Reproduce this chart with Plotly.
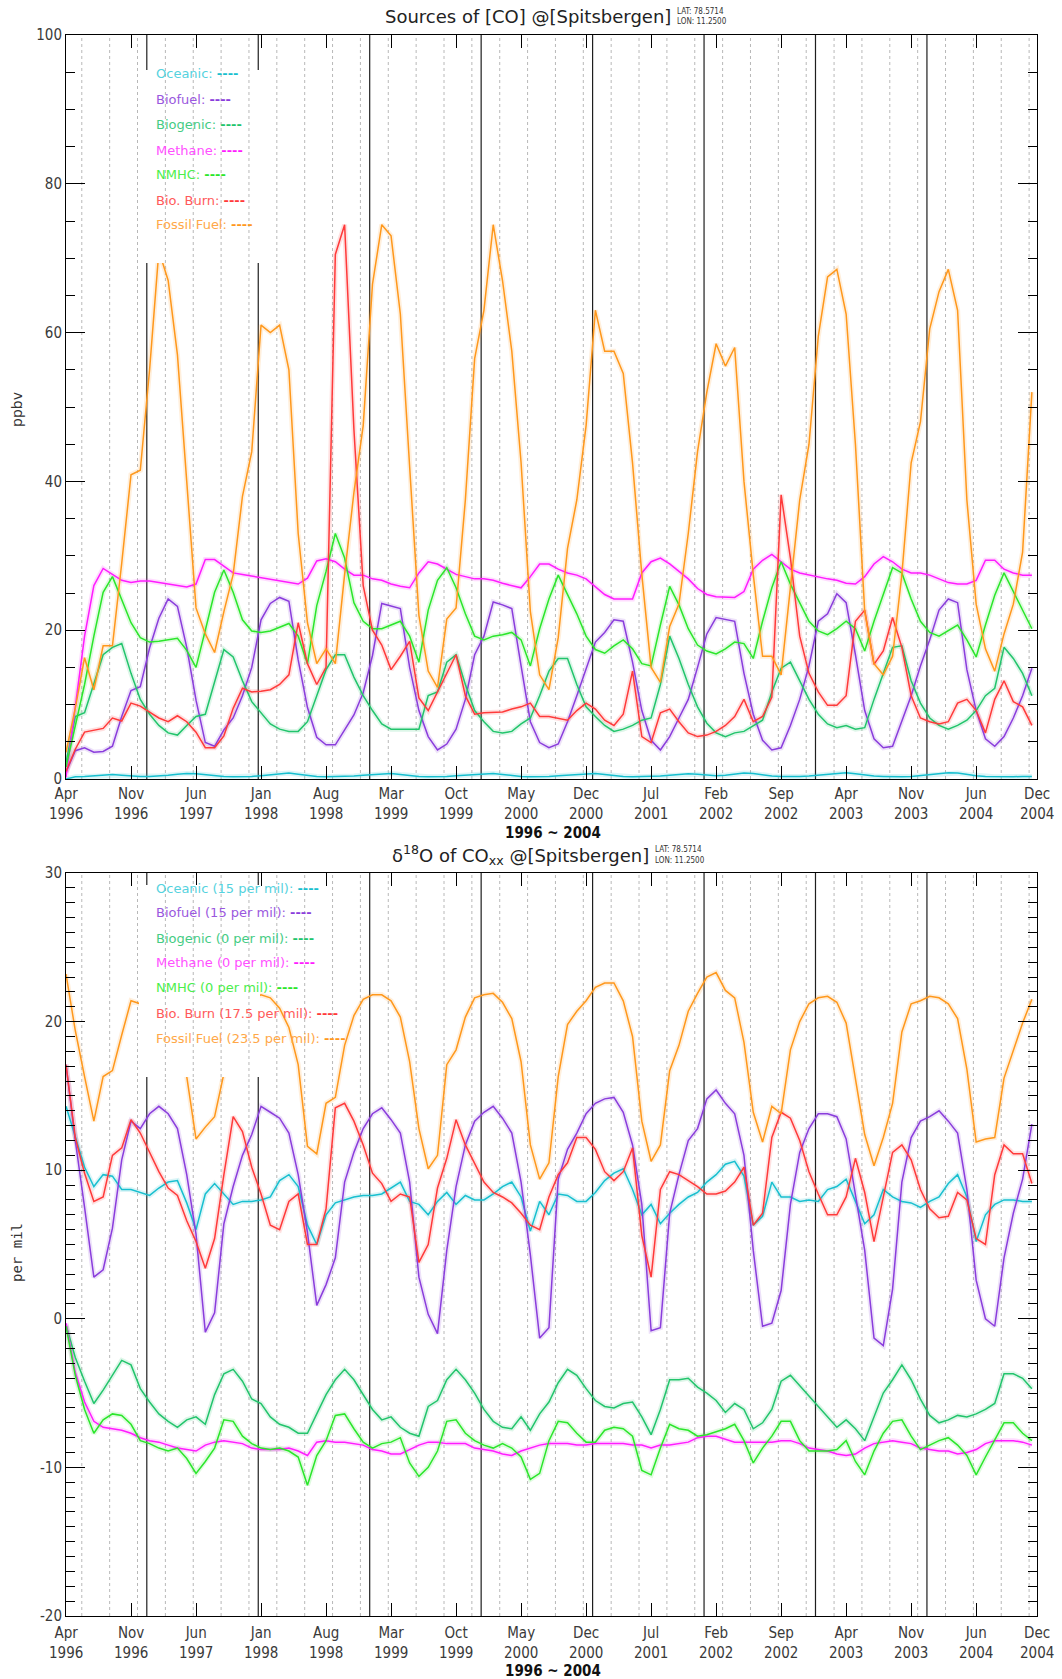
import plotly.graph_objects as go

# ---------------------------------------------------------------------------
# Monthly means, Apr 1996 .. Dec 2004 (105 months)
# ---------------------------------------------------------------------------
tick_months = [0, 7, 14, 21, 28, 35, 42, 49, 56, 63, 70, 77, 84, 91, 98, 104.55]
tick_mon = ["Apr", "Nov", "Jun", "Jan", "Aug", "Mar", "Oct", "May", "Dec",
            "Jul", "Feb", "Sep", "Apr", "Nov", "Jun", "Dec"]
tick_year = ["1996", "1996", "1997", "1998", "1998", "1999", "1999", "2000", "2000",
             "2001", "2002", "2002", "2003", "2003", "2004", "2004"]

series_names = ["Oceanic", "Biofuel", "Biogenic", "Methane", "NMHC", "Bio. Burn", "Fossil Fuel"]
d18o_signatures = ["15", "15", "0", "0", "0", "17.5", "23.5"]

# --- [CO] by source, ppbv ---
co_oceanic = [
    0.0, 0.3, 0.35, 0.4, 0.55, 0.6, 0.5, 0.4, 0.35, 0.35,
    0.4, 0.5, 0.65, 0.75, 0.7, 0.55, 0.4, 0.35, 0.3, 0.3,
    0.35, 0.45, 0.6, 0.75, 0.8, 0.65, 0.45, 0.35, 0.3, 0.3,
    0.35, 0.4, 0.5, 0.6, 0.7, 0.75, 0.6, 0.45, 0.35, 0.3,
    0.3, 0.35, 0.45, 0.55, 0.65, 0.7, 0.75, 0.6, 0.45, 0.35,
    0.3, 0.3, 0.35, 0.45, 0.55, 0.65, 0.7, 0.75, 0.6, 0.45,
    0.35, 0.3, 0.3, 0.35, 0.4, 0.5, 0.6, 0.7, 0.65, 0.5,
    0.45, 0.5, 0.65, 0.8, 0.75, 0.55, 0.4, 0.35, 0.3, 0.35,
    0.4, 0.5, 0.6, 0.75, 0.85, 0.7, 0.5, 0.4, 0.35, 0.3,
    0.3, 0.35, 0.45, 0.55, 0.7, 0.85, 0.8, 0.6, 0.45, 0.35,
    0.3, 0.3, 0.3, 0.35, 0.35]
co_biofuel = [
    0.9, 3.8, 4.2, 3.6, 3.7, 4.4, 8.4, 11.9, 12.4, 17.6,
    21.6, 24.2, 23.2, 17.7, 10.6, 4.9, 4.4, 6.6, 8.2, 11.2,
    15.0, 21.4, 23.6, 24.4, 23.9, 16.0, 9.6, 5.6, 4.6, 4.6,
    6.6, 8.6, 11.6, 16.6, 23.6, 23.2, 22.9, 15.0, 9.2, 5.7,
    3.9, 4.7, 6.7, 10.7, 16.7, 19.2, 23.8, 23.4, 22.9, 15.2,
    7.7, 4.9, 4.2, 4.7, 7.7, 11.2, 14.7, 18.4, 19.7, 21.4,
    21.2, 15.7, 9.2, 5.2, 3.9, 5.7, 8.2, 10.7, 15.0, 19.5,
    21.7, 21.4, 21.2, 14.2, 8.7, 5.2, 3.9, 4.2, 7.2, 10.7,
    15.2, 21.2, 22.2, 24.9, 23.7, 16.7, 9.2, 5.4, 4.2, 4.4,
    7.7, 11.2, 15.2, 18.7, 22.7, 24.2, 23.7, 14.7, 9.2, 5.4,
    4.4, 5.7, 8.2, 11.2, 14.9]
co_biogenic = [
    2.2, 8.4, 8.9, 12.7, 16.7, 17.7, 18.2, 14.2, 10.7, 8.7,
    7.2, 6.2, 5.9, 7.2, 8.4, 8.7, 13.2, 17.4, 16.4, 13.2,
    10.4, 8.9, 7.4, 6.7, 6.4, 6.4, 7.7, 11.2, 14.7, 16.7,
    16.7, 13.7, 11.2, 9.2, 7.4, 6.7, 6.7, 6.7, 6.7, 11.2,
    11.7, 15.7, 16.7, 12.7, 9.2, 7.7, 6.4, 6.2, 6.4, 7.4,
    8.2, 11.2, 14.5, 16.2, 16.2, 12.7, 9.7, 8.4, 7.2, 6.4,
    6.7, 7.2, 7.9, 8.2, 12.7, 19.2, 16.2, 12.7, 9.7, 7.5,
    6.2, 5.7, 6.2, 6.4, 7.2, 7.9, 11.7, 14.9, 15.7, 13.2,
    10.7, 8.7, 7.4, 6.9, 7.2, 6.7, 6.9, 10.7, 14.2, 17.7,
    17.9, 13.2, 10.2, 8.2, 7.2, 6.7, 7.2, 7.9, 9.2, 11.2,
    12.2, 17.7, 16.2, 14.2, 11.2]
co_methane = [
    0.2, 9.9, 19.2, 26.0, 28.3, 27.5, 26.7, 26.4, 26.6, 26.6,
    26.4, 26.2, 25.9, 25.8, 26.2, 29.5, 29.5, 28.6, 27.7, 27.5,
    27.3, 27.1, 26.9, 26.7, 26.4, 26.2, 27.0, 29.3, 29.6, 29.2,
    28.2, 27.4, 27.4, 26.9, 26.7, 26.2, 25.9, 25.7, 27.7, 29.2,
    28.9, 28.2, 27.5, 27.2, 26.9, 26.9, 26.7, 26.3, 26.0, 25.7,
    27.2, 28.9, 28.9, 28.2, 27.7, 27.4, 26.9, 25.9, 24.8, 24.2,
    24.2, 24.2, 27.7, 29.2, 29.7, 28.9, 27.9, 26.9, 25.6, 24.8,
    24.5, 24.4, 24.4, 25.2, 28.2, 29.4, 30.2, 29.2, 28.2, 27.7,
    27.4, 27.2, 26.9, 26.7, 26.3, 26.2, 27.2, 28.9, 29.9, 29.2,
    28.2, 27.7, 27.7, 27.4, 26.9, 26.4, 26.2, 26.2, 26.7, 29.4,
    29.4, 28.2, 27.7, 27.4, 27.4]
co_nmhc = [
    1.6, 7.2, 12.7, 19.2, 25.1, 27.2, 24.2, 21.0, 19.0, 18.4,
    18.5, 18.7, 18.9, 17.3, 15.0, 20.0, 25.1, 28.1, 25.1, 21.4,
    19.9, 19.7, 19.9, 20.4, 20.9, 19.2, 15.5, 23.3, 27.9, 33.0,
    29.7, 23.7, 21.2, 20.2, 20.2, 20.7, 21.2, 19.2, 15.7, 22.7,
    26.7, 28.4, 25.7, 22.2, 19.2, 18.7, 19.2, 19.4, 19.7, 18.7,
    15.2, 20.2, 24.2, 27.4, 24.9, 22.2, 19.2, 17.4, 16.9, 17.9,
    18.7, 17.5, 15.5, 15.2, 20.7, 25.9, 23.4, 20.2, 18.0, 17.2,
    16.8, 17.5, 18.4, 18.2, 16.2, 21.2, 25.7, 29.2, 26.2, 23.7,
    21.2, 19.9, 19.4, 20.2, 21.2, 20.2, 17.2, 21.2, 24.7, 28.4,
    27.7, 24.2, 21.2, 19.7, 19.2, 19.9, 20.7, 18.7, 16.4, 20.7,
    24.7, 27.7, 25.2, 22.7, 20.2]
co_bioburn = [
    1.0, 4.0, 6.3, 6.5, 6.8, 8.2, 7.8, 10.2, 9.8, 9.0,
    8.2, 7.7, 8.5, 7.7, 6.3, 4.2, 4.2, 5.8, 9.5, 12.2,
    11.7, 11.8, 12.0, 12.7, 14.0, 21.0, 15.5, 12.7, 15.0, 70.5,
    74.5, 47.0, 26.0, 20.0, 18.0, 14.7, 16.5, 18.5, 10.9, 9.2,
    11.7, 14.2, 16.7, 11.2, 8.7, 8.9, 8.9, 9.0, 9.4, 9.7,
    10.2, 8.4, 8.4, 8.2, 7.9, 9.2, 10.2, 9.4, 7.9, 7.2,
    8.7, 14.5, 5.7, 4.9, 8.9, 9.4, 7.7, 6.2, 5.7, 5.9,
    6.4, 7.2, 8.4, 10.7, 7.7, 8.4, 11.0, 38.2, 29.7, 19.2,
    14.2, 11.7, 9.9, 9.9, 11.2, 21.2, 22.7, 15.4, 17.2, 21.7,
    17.7, 11.2, 8.2, 7.7, 7.4, 7.7, 10.2, 10.7, 9.2, 6.2,
    10.7, 13.2, 10.4, 9.7, 7.2]
co_fossil = [
    3.6, 9.5, 16.3, 12.0, 17.9, 17.9, 29.0, 40.9, 41.5, 55.0,
    71.0, 67.0, 57.0, 40.5, 23.0, 19.5, 17.0, 22.5, 27.5, 38.0,
    44.0, 61.0, 60.0, 61.0, 55.0, 33.0, 21.0, 15.5, 17.5, 15.5,
    27.5, 38.5, 47.5, 66.5, 74.5, 73.0, 62.5, 42.0, 22.0, 14.5,
    12.3, 21.5, 23.0, 37.5, 56.5, 63.0, 74.5, 67.0, 57.5, 42.5,
    22.5, 14.0, 12.0, 19.0, 31.0, 37.5, 47.5, 63.0, 57.5, 57.5,
    54.5, 42.5, 27.5, 15.0, 13.0, 20.5, 23.5, 33.0, 44.0, 52.0,
    58.5, 55.5, 58.0, 40.0, 27.5, 16.5, 16.5, 14.0, 26.0, 37.5,
    45.0, 59.5, 67.5, 68.5, 62.5, 45.0, 22.5, 15.5, 14.0, 16.5,
    27.5, 42.5, 48.0, 60.5, 65.5, 68.5, 63.0, 37.5, 23.5, 17.5,
    14.5, 19.5, 23.5, 30.5, 52.0]

# --- d18O of CO by source, per mil ---
d18o_oceanic = [
    14.3, 12.2, 10.2, 8.9, 9.7, 9.6, 8.7, 8.7, 8.5, 8.3,
    8.8, 9.2, 9.3, 7.8, 6.0, 8.4, 9.1, 8.4, 7.7, 7.9,
    7.9, 8.0, 8.2, 9.3, 9.7, 8.9, 6.3, 5.0, 7.0, 7.8,
    8.0, 8.2, 8.3, 8.3, 8.4, 8.8, 9.2, 7.9, 7.7, 7.0,
    7.9, 8.5, 7.7, 8.3, 8.0, 8.0, 8.4, 8.9, 9.2, 8.2,
    5.9, 7.9, 7.0, 8.4, 8.3, 7.9, 7.9, 8.5, 9.3, 9.8,
    10.1, 8.7, 7.0, 7.7, 6.4, 7.1, 7.7, 8.2, 8.5, 9.2,
    9.7, 10.4, 10.6, 9.6, 6.3, 6.9, 9.2, 8.2, 8.2, 7.9,
    8.0, 7.9, 8.7, 8.9, 9.4, 7.9, 6.4, 7.0, 8.7, 8.2,
    7.9, 7.8, 7.5, 7.9, 8.2, 9.1, 9.7, 8.2, 5.2, 7.0,
    7.7, 8.0, 8.0, 7.9, 7.9]
d18o_biofuel = [
    17.1, 12.0, 7.5, 2.8, 3.3, 6.1, 10.7, 13.3, 12.8, 13.8,
    14.3, 13.8, 12.8, 9.7, 5.7, -0.9, 0.4, 6.4, 8.9, 11.0,
    12.4, 14.3, 13.9, 13.5, 12.5, 9.7, 5.8, 0.9, 2.3, 4.1,
    9.2, 11.2, 12.8, 13.8, 14.2, 13.4, 12.5, 9.2, 2.8, 0.3,
    -1.0, 4.6, 8.9, 11.7, 13.3, 13.9, 14.3, 13.5, 12.5, 9.2,
    4.3, -1.3, -0.6, 9.4, 11.4, 12.5, 13.8, 14.5, 14.8, 14.9,
    13.9, 11.7, 7.7, -0.8, -0.6, 7.1, 9.7, 12.0, 12.8, 14.8,
    15.4, 14.5, 13.8, 11.0, 4.6, -0.5, -0.3, 1.9, 7.7, 11.2,
    12.8, 13.8, 13.8, 13.6, 12.1, 8.4, 4.6, -1.3, -1.8, 2.0,
    9.2, 12.2, 13.3, 13.6, 14.0, 13.3, 12.5, 8.7, 2.6, 0.0,
    -0.5, 4.1, 7.1, 9.4, 13.1]
d18o_biogenic = [
    -0.4, -2.6, -4.2, -5.7, -4.8, -3.8, -2.8, -3.1, -4.7, -5.6,
    -6.4, -6.9, -7.3, -6.8, -6.6, -7.1, -5.1, -3.7, -3.4, -4.2,
    -5.4, -5.7, -6.6, -7.1, -7.3, -7.7, -7.7, -6.4, -5.1, -4.1,
    -3.4, -4.1, -5.1, -6.1, -6.8, -6.6, -7.3, -7.7, -7.9, -5.9,
    -5.5, -4.1, -3.4, -4.1, -5.0, -6.1, -6.9, -7.3, -7.4, -6.6,
    -7.5, -6.4, -5.6, -4.3, -3.4, -3.8, -4.7, -5.5, -5.9, -6.0,
    -5.7, -5.6, -6.6, -7.8, -6.1, -4.1, -4.1, -4.0, -4.6, -5.0,
    -5.5, -6.3, -5.7, -6.1, -7.4, -7.0, -6.1, -4.2, -3.8, -4.5,
    -5.2, -5.9, -6.6, -7.3, -6.8, -7.4, -8.2, -6.6, -5.0, -4.1,
    -3.1, -4.1, -5.4, -6.5, -7.0, -6.8, -6.5, -6.6, -6.4, -6.1,
    -5.7, -3.7, -3.7, -4.0, -4.7]
d18o_methane = [
    -0.3, -3.6, -5.6, -6.9, -7.3, -7.4, -7.5, -7.7, -8.0, -8.2,
    -8.3, -8.5, -8.7, -8.8, -8.9, -8.5, -8.3, -8.2, -8.3, -8.4,
    -8.7, -8.8, -8.8, -8.8, -8.7, -8.9, -9.2, -8.3, -8.2, -8.3,
    -8.3, -8.4, -8.5, -8.8, -8.9, -9.1, -9.1, -8.8, -8.5, -8.3,
    -8.3, -8.4, -8.4, -8.4, -8.7, -8.8, -8.9, -9.1, -9.2, -8.9,
    -8.7, -8.5, -8.4, -8.4, -8.4, -8.5, -8.5, -8.4, -8.4, -8.4,
    -8.4, -8.5, -8.5, -8.7, -8.5, -8.5, -8.4, -8.3, -8.0, -7.9,
    -7.9, -8.1, -8.3, -8.3, -8.3, -8.3, -8.3, -8.2, -8.2, -8.4,
    -8.7, -8.8, -8.9, -9.1, -9.2, -9.1, -8.7, -8.4, -8.3, -8.2,
    -8.3, -8.4, -8.7, -8.8, -8.9, -8.9, -9.1, -9.0, -8.8, -8.4,
    -8.2, -8.2, -8.2, -8.3, -8.5]
d18o_nmhc = [
    -0.5, -3.8, -6.1, -7.7, -6.8, -6.4, -6.5, -7.1, -8.2, -8.4,
    -8.7, -8.9, -8.7, -9.4, -10.4, -9.6, -8.7, -6.8, -6.9, -7.9,
    -8.4, -8.7, -8.8, -8.7, -8.9, -9.3, -11.2, -9.2, -8.2, -6.5,
    -6.4, -7.4, -8.3, -8.7, -8.4, -8.3, -8.0, -9.7, -10.6, -10.0,
    -8.9, -6.9, -6.8, -7.7, -8.2, -8.5, -8.7, -8.4, -8.7, -9.3,
    -10.8, -10.4, -8.2, -6.9, -7.0, -7.7, -8.3, -8.3, -7.5, -7.3,
    -7.4, -7.9, -10.2, -10.5, -8.7, -7.1, -7.4, -7.5, -7.9, -7.8,
    -7.6, -7.4, -7.1, -8.2, -9.7, -8.7, -7.9, -6.9, -6.9, -8.2,
    -8.9, -8.9, -8.9, -8.8, -8.2, -9.6, -10.5, -8.9, -7.7, -6.9,
    -6.8, -7.9, -8.8, -8.5, -8.2, -8.0, -8.5, -9.2, -10.5, -9.3,
    -8.2, -7.0, -7.0, -7.7, -8.2]
d18o_bioburn = [
    17.1, 12.2, 9.8, 7.9, 8.2, 11.0, 11.5, 13.4, 12.5, 11.2,
    9.9, 8.8, 8.3, 6.6, 5.2, 3.4, 5.4, 9.7, 13.6, 12.6,
    10.2, 8.4, 6.3, 6.0, 7.9, 8.4, 5.0, 5.0, 7.4, 14.2,
    14.5, 13.3, 11.7, 9.8, 9.1, 7.9, 8.4, 8.2, 3.8, 5.0,
    8.8, 10.8, 13.4, 11.7, 10.5, 9.2, 8.5, 8.2, 7.8, 7.1,
    6.3, 6.0, 8.2, 9.7, 10.5, 12.2, 12.2, 11.4, 9.9, 9.3,
    9.9, 11.5, 5.6, 2.8, 8.7, 9.9, 9.7, 9.3, 8.9, 8.4,
    8.4, 8.6, 9.2, 10.2, 6.3, 7.1, 12.2, 13.9, 13.5, 12.0,
    9.9, 8.4, 7.0, 7.0, 8.2, 10.8, 8.5, 5.2, 8.2, 11.2,
    11.7, 10.7, 8.7, 7.4, 6.8, 6.9, 8.5, 8.0, 5.4, 5.0,
    9.7, 11.7, 11.1, 11.1, 9.1]
d18o_fossil = [
    23.2, 19.4, 16.3, 13.3, 16.3, 16.7, 19.1, 21.4, 21.2, 22.0,
    21.5, 20.0, 17.5, 16.3, 12.1, 12.9, 13.6, 16.5, 19.0, 20.5,
    21.5, 21.8, 21.6, 20.9, 19.6, 17.1, 11.6, 11.1, 14.5, 14.9,
    18.4, 20.4, 21.5, 21.8, 21.8, 21.4, 20.3, 17.3, 12.8, 10.1,
    11.0, 17.1, 18.1, 20.3, 21.6, 21.8, 21.9, 21.3, 20.2, 17.3,
    11.7, 9.4, 10.5, 16.3, 19.8, 20.7, 21.4, 22.3, 22.6, 22.6,
    21.4, 19.0, 13.3, 10.6, 11.7, 16.7, 18.4, 20.7, 21.9, 23.0,
    23.3, 22.1, 21.6, 18.6, 13.9, 11.9, 14.3, 13.8, 18.1, 20.0,
    21.2, 21.6, 21.7, 21.3, 19.9, 16.2, 12.4, 10.3, 12.2, 14.5,
    19.3, 21.2, 21.4, 21.7, 21.6, 21.2, 20.2, 16.8, 11.9, 12.1,
    12.2, 16.2, 18.1, 19.9, 21.5]

co_series = [co_oceanic, co_biofuel, co_biogenic, co_methane, co_nmhc, co_bioburn, co_fossil]
d18o_series = [d18o_oceanic, d18o_biofuel, d18o_biogenic, d18o_methane, d18o_nmhc,
               d18o_bioburn, d18o_fossil]

line_colors = ["#18bfcf", "#8a3ddc", "#22c46c", "#ff1cff", "#2be62b", "#ff3a3a", "#ff981c"]
text_colors = ["#55d2de", "#9a58de", "#45cc84", "#ff50ff", "#4cee4c", "#ff5a5a", "#ffa848"]

months = list(range(len(co_oceanic)))

# ---------------------------------------------------------------------------
# Page geometry (pixels) and helpers
# ---------------------------------------------------------------------------
W, H = 1062, 1679
PL, PR, PT, PB = 66, 1037, 35, 1616
TOP_Y0, TOP_Y1 = 35, 779        # top panel, pixel rows
BOT_Y0, BOT_Y1 = 873, 1616      # bottom panel, pixel rows
X_END = 104.55


def fx(p):
    return (p - PL) / (PR - PL)


def fy(p):
    return (PB - p) / (PB - PT)


def mx(p):
    return (p - PL) / (PR - PL) * X_END


def v_top(p):
    return (TOP_Y1 - p) / (TOP_Y1 - TOP_Y0) * 100.0


def v_bot(p):
    return 30.0 - (p - BOT_Y0) / (BOT_Y1 - BOT_Y0) * 50.0


SANS = "DejaVu Sans"
COND = "DejaVu Sans Condensed, Liberation Sans Narrow, DejaVu Sans"

fig = go.Figure()

for xa, ya, data in (("x", "y", co_series), ("x2", "y2", d18o_series)):
    # soft halo standing in for the scattered sub-monthly samples
    for vals, col in zip(data, line_colors):
        fig.add_trace(go.Scatter(x=months, y=vals, mode="lines", xaxis=xa, yaxis=ya,
                                 line=dict(color=col, width=5), opacity=0.15,
                                 hoverinfo="skip", showlegend=False))
    for name, vals, col in zip(series_names, data, line_colors):
        fig.add_trace(go.Scatter(x=months, y=vals, mode="lines", xaxis=xa, yaxis=ya,
                                 name=name, line=dict(color=col, width=1.5),
                                 showlegend=False))

# ---------------------------------------------------------------------------
# Shapes: year markers, seasonal dotted grid, legend backing
# ---------------------------------------------------------------------------
shapes = []
year_marks = [8.7 + 12 * k for k in range(8)]
season_marks = [1.7 + 3 * k for k in range(35)]
box_x0, box_x1 = mx(139), mx(260)

panels = [
    ("x", "y", (v_top(263), v_top(70))),
    ("x2", "y2", (v_bot(1077), v_bot(885))),
]
for xa, ya, (b0, b1) in panels:
    for xm in season_marks:
        shapes.append(dict(type="line", xref=xa, yref=ya + " domain", x0=xm, x1=xm,
                           y0=0, y1=1, layer="below",
                           line=dict(color="#b8b8b8", width=1, dash="dot")))
    for xm in year_marks:
        shapes.append(dict(type="line", xref=xa, yref=ya + " domain", x0=xm, x1=xm,
                           y0=0, y1=1, layer="below",
                           line=dict(color="#1e1e1e", width=1.2)))
    shapes.append(dict(type="rect", xref=xa, yref=ya, x0=box_x0, x1=box_x1,
                       y0=b0, y1=b1, layer="above", fillcolor="white",
                       line=dict(width=0)))
    for xm in season_marks:
        if box_x0 < xm < box_x1:
            shapes.append(dict(type="line", xref=xa, yref=ya, x0=xm, x1=xm,
                               y0=b0, y1=b1, layer="above",
                               line=dict(color="#b8b8b8", width=1, dash="dot")))

# ---------------------------------------------------------------------------
# Annotations: titles, axis labels, tick labels, legends
# ---------------------------------------------------------------------------
ann = []


def add_text(text, px_x, px_y, size, color="#222", family=SANS, xanchor="center",
             angle=0):
    ann.append(dict(text=text, x=fx(px_x), y=fy(px_y), xref="paper", yref="paper",
                    xanchor=xanchor, yanchor="middle", showarrow=False,
                    textangle=angle, font=dict(size=size, color=color, family=family)))


# panel titles
add_text("Sources of [CO] @[Spitsbergen]", 673, 17, 18, xanchor="right")
add_text("LAT: 78.5714", 675, 11, 8, color="#333", family=COND, xanchor="left")
add_text("LON: 11.2500", 675, 22, 8, color="#333", family=COND, xanchor="left")
add_text("\u03b4<sup>18</sup>O of CO<sub>xx</sub> @[Spitsbergen]", 651, 855, 18,
         xanchor="right")
add_text("LAT: 78.5714", 653, 849, 8, color="#333", family=COND, xanchor="left")
add_text("LON: 11.2500", 653, 860, 8, color="#333", family=COND, xanchor="left")

# y-axis titles
add_text("ppbv", 17, 410, 14, color="#333", angle=-90)
add_text("per mil", 17, 1253, 14, color="#333", family="DejaVu Sans Mono", angle=-90)

# x tick labels (month over year) and x-axis titles
for label_y, title_y in ((803.5, 833), (1642.5, 1671)):
    for xm, mo, yr in zip(tick_months, tick_mon, tick_year):
        px_x = PL + xm / X_END * (PR - PL)
        add_text("%s<br>%s" % (mo, yr), px_x, label_y, 15, color="#3a3a3a", family=COND)
    add_text("<b>1996 ~ 2004</b>", 553, title_y, 15, color="#111", family=COND)

# legends
top_rows = [74, 99.5, 124.5, 150, 174.5, 200, 225]
bot_rows = [888, 912.5, 938, 962.5, 987.5, 1013, 1038]
for k, (name, sig) in enumerate(zip(series_names, d18o_signatures)):
    dash = "<span style='color:%s'><b>----</b></span>" % line_colors[k]
    add_text("%s: %s" % (name, dash), 154, top_rows[k], 13, color=text_colors[k],
             xanchor="left")
    add_text("%s (%s per mil): %s" % (name, sig, dash), 154, bot_rows[k], 13,
             color=text_colors[k], xanchor="left")

# ---------------------------------------------------------------------------
# Axes
# ---------------------------------------------------------------------------
xcommon = dict(range=[0, X_END], tickmode="array", tickvals=tick_months,
               showticklabels=False, ticks="inside", ticklen=13, tickwidth=1,
               tickcolor="#000", showline=True, linecolor="#000", linewidth=1,
               mirror="ticks", showgrid=False, zeroline=False, fixedrange=True)
ycommon = dict(ticks="inside", ticklen=19, tickwidth=1, tickcolor="#000",
               showline=True, linecolor="#000", linewidth=1, mirror="ticks",
               showgrid=False, zeroline=False,
               tickfont=dict(size=15, color="#3a3a3a", family=COND))

fig.update_layout(
    width=W, height=H,
    margin=dict(l=PL, r=W - PR, t=PT, b=H - PB, autoexpand=False),
    paper_bgcolor="white", plot_bgcolor="white",
    showlegend=False,
    xaxis=dict(domain=[0, 1], anchor="y", **xcommon),
    xaxis2=dict(domain=[0, 1], anchor="y2", **xcommon),
    yaxis=dict(domain=[fy(TOP_Y1), 1.0], anchor="x", range=[0, 100],
               tickmode="array", tickvals=[0, 20, 40, 60, 80, 100],
               ticktext=["0", "20", "40", "60", "80", "100"],
               minor=dict(dtick=5, tick0=0, ticks="inside", ticklen=9,
                          tickcolor="#000", tickwidth=1),
               **ycommon),
    yaxis2=dict(domain=[0.0, fy(BOT_Y0)], anchor="x2", range=[-20, 30],
                tickmode="array", tickvals=[-20, -10, 0, 10, 20, 30],
                ticktext=["-20", "-10", "0", "10", "20", "30"],
                minor=dict(dtick=1, tick0=0, ticks="inside", ticklen=9,
                           tickcolor="#000", tickwidth=1),
                **ycommon),
    shapes=shapes,
    annotations=ann,
)

fig.write_html("out.html")
